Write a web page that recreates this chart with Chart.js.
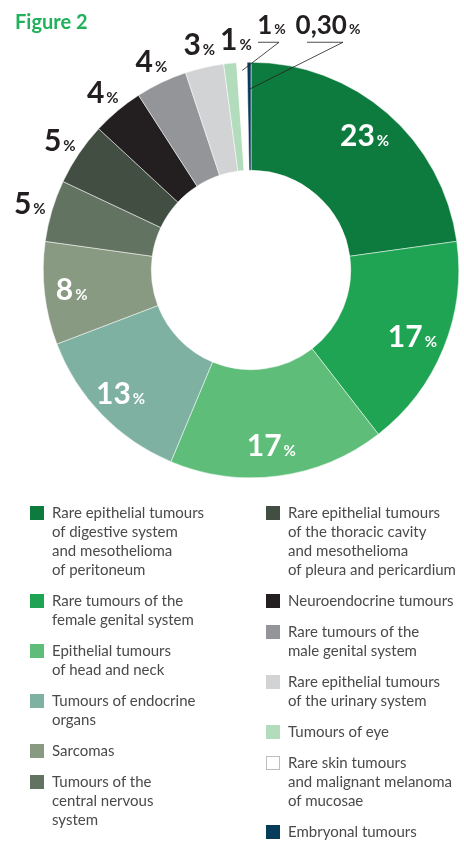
<!DOCTYPE html>
<html>
<head>
<meta charset="utf-8">
<script src="https://cdn.jsdelivr.net/npm/chart.js@4.4.1/dist/chart.umd.min.js"></script>
<style>
  html, body { margin: 0; padding: 0; background: #fff; }
  #wrap { position: relative; width: 464px; height: 843px; overflow: hidden; }
  #pie { position: absolute; left: 0; top: 0; }
  #title {
    position: absolute; left: 15px; top: 9px;
    font: bold 20px Lato, "Open Sans", sans-serif; color: #1fb25a;
  }
  .col { position: absolute; top: 503px; display: flex; flex-direction: column; gap: 12px; }
  #legLeft { left: 30px; }
  #legRight { left: 266px; }
  .item { display: flex; align-items: flex-start; }
  .sw { width: 14px; height: 14px; margin-top: 3px; flex: none; box-sizing: border-box; }
  .txt {
    margin-left: 8px; font: 15px/19px Lato, "Open Sans", sans-serif; color: #4a4a4c;
    white-space: nowrap;
  }
</style>
</head>
<body>
<div id="wrap">
  <canvas id="pie" width="464" height="843"></canvas>
  <div id="title">Figure 2</div>
  <div id="legLeft" class="col"></div>
  <div id="legRight" class="col"></div>
</div>
<script>
// categories (legend text, one entry per line)
const categories = [
  ["Rare epithelial tumours", "of digestive system", "and mesothelioma", "of peritoneum"],
  ["Rare tumours of the", "female genital system"],
  ["Epithelial tumours", "of head and neck"],
  ["Tumours of endocrine", "organs"],
  ["Sarcomas"],
  ["Tumours of the", "central nervous", "system"],
  ["Rare epithelial tumours", "of the thoracic cavity", "and mesothelioma", "of pleura and pericardium"],
  ["Neuroendocrine tumours"],
  ["Rare tumours of the", "male genital system"],
  ["Rare epithelial tumours", "of the urinary system"],
  ["Tumours of eye"],
  ["Rare skin tumours", "and malignant melanoma", "of mucosae"],
  ["Embryonal tumours"],
];
// share of each category (percent)
const shares = [22.8, 16.7, 16.8, 12.9, 8.0, 4.8, 4.9, 4.0, 4.0, 3.0, 1.0, 0.8, 0.3];
// printed labels
const pctText = ["23", "17", "17", "13", "8", "5", "5", "4", "4", "3", "1", "1", "0,30"];
const colors = [
  "#0e7b3e", "#1fa453", "#5dbd79", "#7eb1a1", "#889a81", "#627361", "#424e42",
  "#231f20", "#939598", "#d1d3d4", "#b2dcbc", "#ffffff", "#063b5a",
];
const leftCount = 6;

// legend (html, two columns)
function buildLegend() {
  categories.forEach((lines, i) => {
    const col = document.getElementById(i < leftCount ? "legLeft" : "legRight");
    const item = document.createElement("div");
    item.className = "item";
    const sw = document.createElement("div");
    sw.className = "sw";
    sw.style.background = colors[i];
    if (colors[i] === "#ffffff") sw.style.border = "1px solid #bcbec0";
    const txt = document.createElement("div");
    txt.className = "txt";
    txt.innerHTML = lines.join("<br>");
    item.appendChild(sw);
    item.appendChild(txt);
    col.appendChild(item);
  });
}
buildLegend();

function drawPct(ctx, num, cx, baseline, color, big, small) {
  ctx.fillStyle = color;
  ctx.textBaseline = "alphabetic";
  ctx.textAlign = "left";
  const fBig = "bold " + big + "px Lato, 'Open Sans', sans-serif";
  const fSmall = "bold " + small + "px Lato, 'Open Sans', sans-serif";
  ctx.font = fBig;
  const w1 = ctx.measureText(num).width;
  ctx.font = fSmall;
  const w2 = ctx.measureText("%").width;
  const start = cx - (w1 + 2 + w2) / 2;
  ctx.font = fBig;
  ctx.fillText(num, start, baseline);
  ctx.font = fSmall;
  ctx.fillText("%", start + w1 + 2, baseline);
}

// leader lines for the two thinnest slices
const leaders = {
  11: { inset: 8, dx: 28, len: 21 },
  12: { inset: 27, dx: 92, len: 36 },
};
// small sideways shift so crowded outside labels don't touch
const nudgeX = { 10: 8 };

const pctLabels = {
  id: "pctLabels",
  afterDatasetsDraw(chart) {
    const ctx = chart.ctx;
    const meta = chart.getDatasetMeta(0);
    ctx.save();
    meta.data.forEach((arc, i) => {
      const p = arc.getProps(["x", "y", "startAngle", "endAngle", "innerRadius", "outerRadius"], true);
      const mid = (p.startAngle + p.endAngle) / 2;
      if (i < 5) {
        const r = p.innerRadius + 0.72 * (p.outerRadius - p.innerRadius);
        const cx = p.x + Math.cos(mid) * r;
        const cy = p.y + Math.sin(mid) * r;
        drawPct(ctx, pctText[i], cx - 3, cy + 10, "#ffffff", 30, 15);
      } else if (leaders[i]) {
        const L = leaders[i];
        const r = p.outerRadius - L.inset;
        const sx = p.x + Math.cos(mid) * r;
        const sy = p.y + Math.sin(mid) * r;
        const ex = p.x + L.dx;
        const ey = p.y - p.outerRadius - 20;
        ctx.strokeStyle = "#231f20";
        ctx.lineWidth = 0.8;
        ctx.beginPath();
        ctx.moveTo(sx, sy);
        ctx.lineTo(ex, ey);
        ctx.lineTo(ex - L.len, ey);
        ctx.stroke();
        drawPct(ctx, pctText[i], ex - L.len / 2 + 3, ey - 8, "#231f20", 26, 14);
      } else {
        const r = p.outerRadius + 23;
        const cx = p.x + Math.cos(mid) * r + (nudgeX[i] || 0);
        const cy = p.y + Math.sin(mid) * r;
        drawPct(ctx, pctText[i], cx, cy + 10, "#231f20", 30, 15);
      }
    });
    ctx.restore();
  },
};

new Chart(document.getElementById("pie").getContext("2d"), {
  type: "doughnut",
  data: {
    labels: categories.map((l) => l.join(" ")),
    datasets: [{
      data: shares,
      backgroundColor: colors,
      borderColor: "#ffffff",
      borderWidth: 0.5,
      hoverOffset: 0,
    }],
  },
  options: {
    responsive: false,
    animation: false,
    events: [],
    cutout: "48%",
    layout: { padding: { left: 43, right: 5, top: 62, bottom: 365 } },
    plugins: { legend: { display: false }, tooltip: { enabled: false } },
  },
  plugins: [pctLabels],
});
</script>
</body>
</html>
